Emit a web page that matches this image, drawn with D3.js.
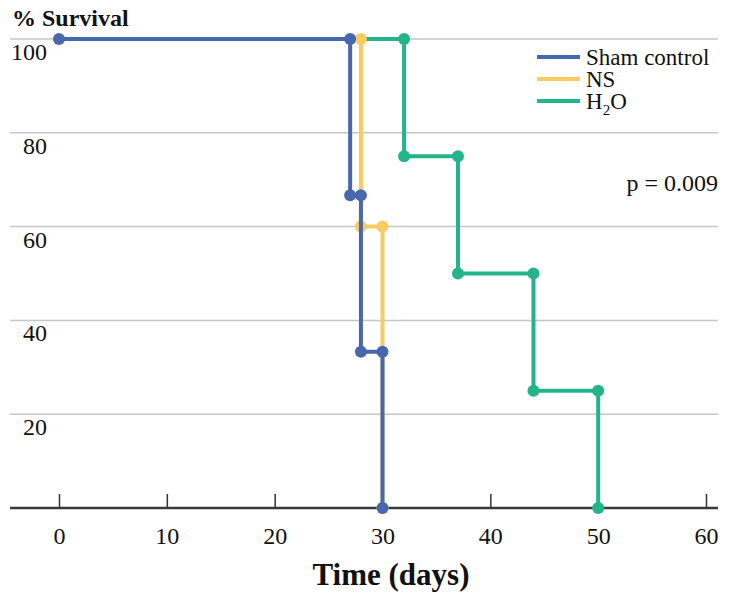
<!DOCTYPE html>
<meta charset="utf-8">
<title>% Survival</title>
<script src="https://d3js.org/d3.v7.min.js"></script>
<style>
  body { margin: 0; background: #fff; }
  svg text { font-family: "Liberation Serif", "Times New Roman", serif; fill: #111; }
</style>
<div id="chart"></div>
<script>
// survival data (time in days, % surviving after each event)
var shamTimes = [0, 27, 28, 30];
var shamSurv  = [100, 66.7, 33.3, 0];
var nsTimes   = [0, 28, 30];
var nsSurv    = [100, 60, 0];
var h2oTimes  = [0, 32, 37, 44, 50];
var h2oSurv   = [100, 75, 50, 25, 0];

var xTicks = [0, 10, 20, 30, 40, 50, 60];
var yTicks = [20, 40, 60, 80, 100];

var groups = [
  {name: "Sham control", times: shamTimes, surv: shamSurv, color: "#4767ae"},
  {name: "NS", times: nsTimes, surv: nsSurv, color: "#f9cc62"},
  {name: "H2O", times: h2oTimes, surv: h2oSurv, color: "#22b48a"}
];

var W = 729, H = 602;
var svg = d3.select("#chart").append("svg")
  .attr("width", W).attr("height", H);

var x = d3.scaleLinear().domain([0, 60]).range([59, 706]);
var y = d3.scaleLinear().domain([0, 100]).range([508, 39]);

// grid lines
svg.append("g").selectAll("line")
  .data(yTicks).enter().append("line")
    .attr("x1", 10).attr("x2", 718)
    .attr("y1", function(d) { return y(d); })
    .attr("y2", function(d) { return y(d); })
    .attr("stroke", "#c6c6c6")
    .attr("stroke-width", 1.5);

// y labels, sit under each grid line
svg.append("g").selectAll("text")
  .data(yTicks).enter().append("text")
    .attr("x", 47)
    .attr("y", function(d) { return y(d) + 21; })
    .attr("text-anchor", "end")
    .attr("font-size", "24px")
    .text(function(d) { return d; });

// x axis
var xAxis = svg.append("g")
  .attr("transform", "translate(0," + y(0) + ")")
  .call(d3.axisBottom(x).tickValues(xTicks).tickSize(-14).tickPadding(19));
xAxis.select(".domain").remove();
xAxis.selectAll(".tick line").attr("stroke", "#333").attr("stroke-width", 1.5);
xAxis.selectAll(".tick text")
  .attr("font-size", "24px")
  .attr("fill", "#111");

svg.append("line")
  .attr("x1", 10).attr("x2", 718)
  .attr("y1", y(0)).attr("y2", y(0))
  .attr("stroke", "#3a3a3a")
  .attr("stroke-width", 2.5);

// step curves, drawn green first so blue ends on top
var line = d3.line()
  .x(function(d) { return x(d[0]); })
  .y(function(d) { return y(d[1]); })
  .curve(d3.curveStepAfter);

groups.slice().reverse().forEach(function(g) {
  var pts = g.times.map(function(t, i) { return [t, g.surv[i]]; });
  svg.append("path")
    .datum(pts)
    .attr("d", line)
    .attr("fill", "none")
    .attr("stroke", g.color)
    .attr("stroke-width", 4);

  // dots at each corner of the steps
  var dots = [[g.times[0], g.surv[0]]];
  for (var i = 1; i < g.times.length; i++) {
    dots.push([g.times[i], g.surv[i - 1]]);
    dots.push([g.times[i], g.surv[i]]);
  }
  if (g.name != "Sham control") dots.shift();
  svg.append("g").selectAll("circle")
    .data(dots).enter().append("circle")
      .attr("cx", function(d) { return x(d[0]); })
      .attr("cy", function(d) { return y(d[1]); })
      .attr("r", 6)
      .attr("fill", g.color);
});

// legend
var legend = svg.append("g");
groups.forEach(function(g, i) {
  var ly = 57 + i * 22;
  legend.append("line")
    .attr("x1", 537).attr("x2", 580)
    .attr("y1", ly).attr("y2", ly)
    .attr("stroke", g.color)
    .attr("stroke-width", 4);
  var t = legend.append("text")
    .attr("x", 586).attr("y", ly + 8)
    .attr("font-size", "23px");
  if (g.name == "H2O") {
    t.append("tspan").text("H");
    t.append("tspan").attr("font-size", "15px").attr("dy", 6).text("2");
    t.append("tspan").attr("dy", -6).text("O");
  } else {
    t.text(g.name);
  }
});

svg.append("text")
  .attr("x", 718).attr("y", 191)
  .attr("text-anchor", "end")
  .attr("font-size", "24px")
  .text("p = 0.009");

svg.append("text")
  .attr("x", 12).attr("y", 26)
  .attr("font-size", "24px")
  .attr("font-weight", "bold")
  .text("% Survival");

svg.append("text")
  .attr("x", 391).attr("y", 585)
  .attr("text-anchor", "middle")
  .attr("font-size", "31px")
  .attr("font-weight", "bold")
  .text("Time (days)");
</script>
